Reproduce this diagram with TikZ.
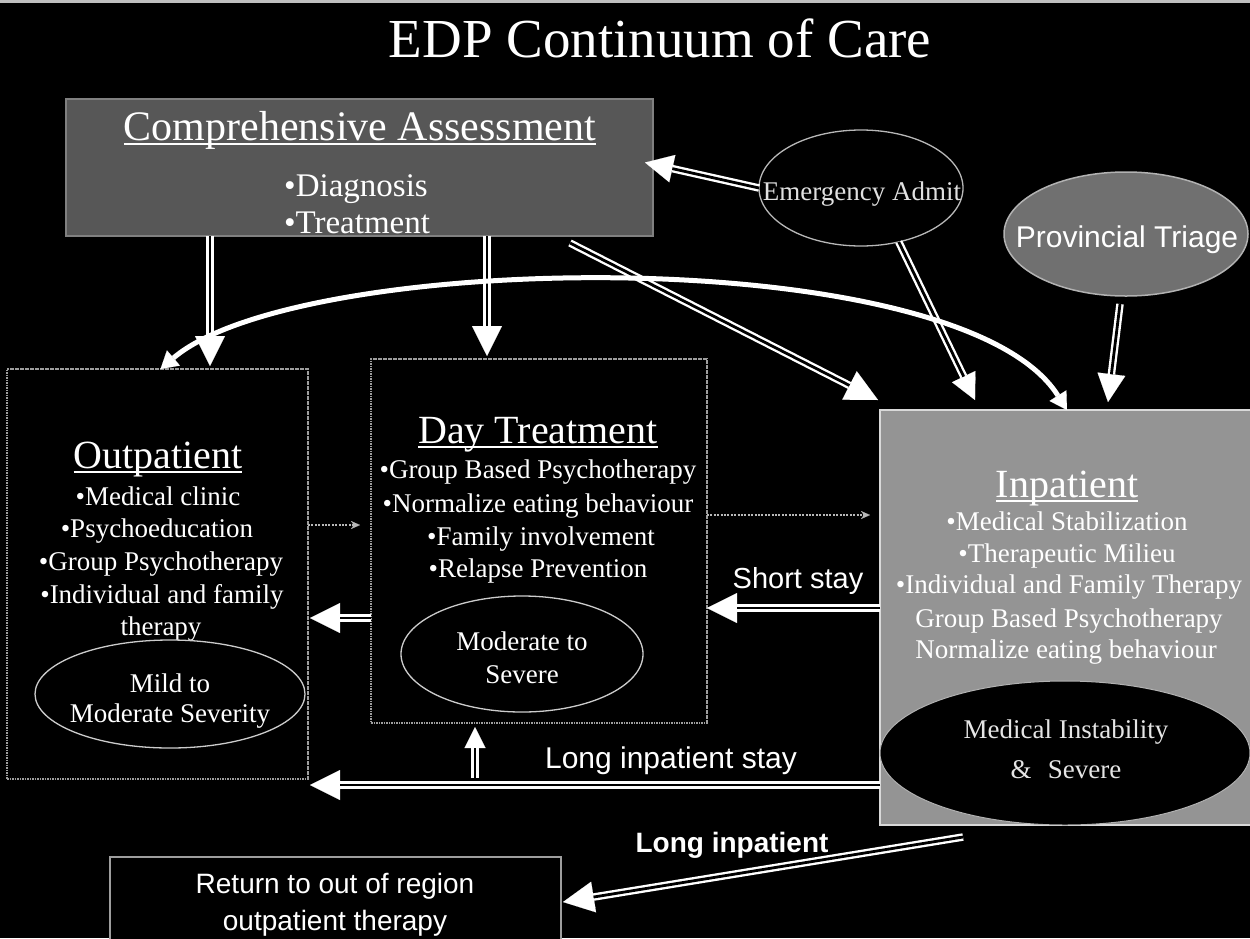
\documentclass[tikz,border=0pt]{standalone}
\usepackage{fontspec}
\setmainfont{Liberation Serif}
\newfontfamily\arialfam{Liberation Sans}
\usetikzlibrary{arrows.meta,shapes.geometric,calc}

% font size in pt with matching leading
\newcommand\fsz[1]{\fontsize{#1}{#1}\selectfont}
% underline sitting just below the baseline
\newcommand\ulbar[1]{\setbox0\hbox{#1}\rlap{\rule[-0.13em]{\wd0}{0.055em}}\box0}

\begin{document}
\begin{tikzpicture}[x=1pt,y=-1pt,
  panel/.style={rectangle, inner sep=0pt, outer sep=0pt},
  oval/.style={ellipse, inner sep=0pt, outer sep=0pt},
  txt/.style={text=white, inner sep=0pt, anchor=base},
  itm/.style={txt, font=\fsz{27}},
  hdr/.style={txt, font=\fsz{40}},
  sanslbl/.style={txt, font=\arialfam\fsz{29}},
  dotbox/.style={panel, fill=black, draw=white!62!black, line width=2pt, dash pattern=on 1.6pt off 0.9pt},
  dbl/.style={draw=black, line width=2.8pt, shorten >=#1,
    preaction={draw=white, line width=7.5pt, shorten >=0pt,
      -{Triangle[length=#1, width=#1, line width=0.1pt]}}},
  dbl/.default=30pt,
  thinarrow/.style={draw=white!72!black, line width=1.8pt, dash pattern=on 2pt off 1.4pt,
    -{Stealth[length=9pt, width=8pt, line width=0.1pt]}},
  arcarrow/.style={draw=white, line width=5pt,
    {Triangle[length=17pt, width=20pt, line width=0.1pt]}-{Triangle[length=17pt, width=20pt, line width=0.1pt]}}
]
\useasboundingbox (0,0) rectangle (1250,938);
\fill[black] (0,0) rectangle (1250,938);
\draw[white!75!black, line width=2.5pt] (0,1.5) -- (1250,1.5);

% title
\node[txt, font=\fsz{55}] (title) at (660,57) {EDP Continuum of Care};

% assessment panel
\node[panel, fill=white!34!black, draw=white!50!black, line width=1.5pt,
      minimum width=587, minimum height=137] (ca) at (359.5,167.5) {};
\node[txt, font=\fsz{42}] (caT) at (360,140) {\ulbar{Comprehensive Assessment}};
\node[txt, font=\fsz{33}] (caA) at (356,196) {•Diagnosis};
\node[txt, font=\fsz{33}] (caB) at (357,233) {•Treatment};

% entry points
\node[oval, fill=black, draw=white!72!black, line width=1.3pt,
      minimum width=204, minimum height=116] (ea) at (861,188) {};
\node[itm, text=white!88!black] (eaT) at (862,200) {Emergency Admit};
\node[oval, fill=white!44!black, draw=white!70!black, line width=1.5pt,
      minimum width=244, minimum height=124] (pt) at (1126,234) {};
\node[txt, font=\arialfam\fsz{30}] (ptT) at (1127,247) {Provincial Triage};

% outpatient panel
\node[dotbox, minimum width=301, minimum height=410] (op) at (157.5,574) {};
\node[hdr] (opT) at (158,468) {\ulbar{Outpatient}};
\node[itm] (op1) at (158,505) {•Medical clinic};
\node[itm] (op2) at (157,537) {•Psychoeducation};
\node[itm] (op3) at (161,570) {•Group Psychotherapy};
\node[itm] (op4) at (162,603) {•Individual and family};
\node[itm] (op5) at (161,635) {therapy};
\node[oval, fill=black, draw=white!80!black, line width=1.3pt,
      minimum width=270, minimum height=108] (opE) at (170,694) {};
\node[itm] (opE1) at (170,692) {Mild to};
\node[itm] (opE2) at (170,722) {Moderate Severity};

% day treatment panel
\node[dotbox, minimum width=336, minimum height=364] (dt) at (539,541) {};
\node[hdr] (dtT) at (538,443) {\ulbar{Day Treatment}};
\node[itm] (dt1) at (538,478) {•Group Based Psychotherapy};
\node[itm] (dt2) at (538,512) {•Normalize eating behaviour};
\node[itm] (dt3) at (541,545) {•Family involvement};
\node[itm] (dt4) at (538,577) {•Relapse Prevention};
\node[oval, fill=black, draw=white!80!black, line width=1.3pt,
      minimum width=242, minimum height=116] (dtE) at (522,654) {};
\node[itm] (dtE1) at (522,650) {Moderate to};
\node[itm] (dtE2) at (522,683) {Severe};

% inpatient panel
\node[panel, fill=white!58!black, draw=white!85!black, line width=2pt,
      minimum width=372, minimum height=415] (ip) at (1066,617.5) {};
\node[hdr] (ipT) at (1067,497) {\ulbar{Inpatient}};
\node[itm] (ip1) at (1067,530) {•Medical Stabilization};
\node[itm] (ip2) at (1067,562) {•Therapeutic Milieu};
\node[itm] (ip3) at (1069,593) {•Individual and Family Therapy};
\node[itm] (ip4) at (1069,627) {Group Based Psychotherapy};
\node[itm] (ip5) at (1066,658) {Normalize eating behaviour};
\node[oval, fill=black, draw=white!70!black, line width=1pt,
      minimum width=370, minimum height=144] (ipE) at (1065,753) {};
\node[itm, text=white!90!black] (ipE1) at (1066,738) {Medical Instability};
\node[itm, text=white!90!black] (ipE2) at (1066,778) {\&\hspace{0.6em}Severe};

% discharge panel
\node[panel, fill=black, draw=white!62!black, line width=1.5pt,
      minimum width=451, minimum height=103] (rt) at (335.5,908.5) {};
\node[txt, font=\arialfam\fsz{28}] (rt1) at (335,893) {Return to out of region};
\node[txt, font=\arialfam\fsz{28}] (rt2) at (335,930) {outpatient therapy};

% arrow labels
\node[sanslbl] (lShort) at (798,588) {Short stay};
\node[txt, font=\arialfam\fsz{30}] (lLong) at (671,768) {Long inpatient stay};
\node[txt, font=\arialfam\bfseries\fsz{28}] (lLong2) at (732,852) {Long inpatient};

% referral arrows from the assessment
\draw[dbl] ([xshift=144pt]ca.south west) -- ([xshift=52.5pt,yshift=3pt]op.north);
\draw[dbl] ([xshift=421pt]ca.south west) -- ([xshift=-52pt,yshift=3pt]dt.north);
\draw[dbl=32pt] ([xshift=504pt,yshift=-7pt]ca.south west) -- ([xshift=-2pt,yshift=10pt]ip.north west);

% admissions
\draw[dbl=28pt] (ea.west) -- ([xshift=-8pt,yshift=5pt]ca.east);
\draw[dbl=26pt] (ea.-55) -- ([xshift=-91pt,yshift=10pt]ip.north);
\draw[dbl=28pt] ([xshift=-6pt,yshift=-8pt]pt.south) -- ([xshift=42pt,yshift=8pt]ip.north);

% stepping up
\draw[thinarrow] ([yshift=49pt]op.east) -- ([xshift=-11pt,yshift=16pt]dt.west);
\draw[thinarrow] ([yshift=26pt]dt.east) -- ([xshift=-10pt,yshift=102.5pt]ip.west);

% stepping down
\draw[dbl] ([yshift=-77pt]dt.west) -- ([xshift=2pt,yshift=-44pt]op.east);
\draw[dbl] ([yshift=9.5pt]ip.west) -- ([yshift=-67pt]dt.east);
\draw[dbl] ([yshift=-167.5pt]ip.west) -- ([xshift=2pt,yshift=-211pt]op.east);
\coordinate (branch) at (475,778);
\draw[dbl=21pt] (branch) -- ([xshift=-64pt,yshift=-4pt]dt.south);
\draw[dbl=31pt] ([xshift=83pt,yshift=-12pt]ip.south west) -- ([xshift=2pt,yshift=6.5pt]rt.east);

% direct link between outpatient and inpatient care
\draw[arcarrow] ([xshift=3pt]op.north) .. controls (300,250) and (960,240) .. ([xshift=1pt]ip.north);
\end{tikzpicture}
\end{document}
